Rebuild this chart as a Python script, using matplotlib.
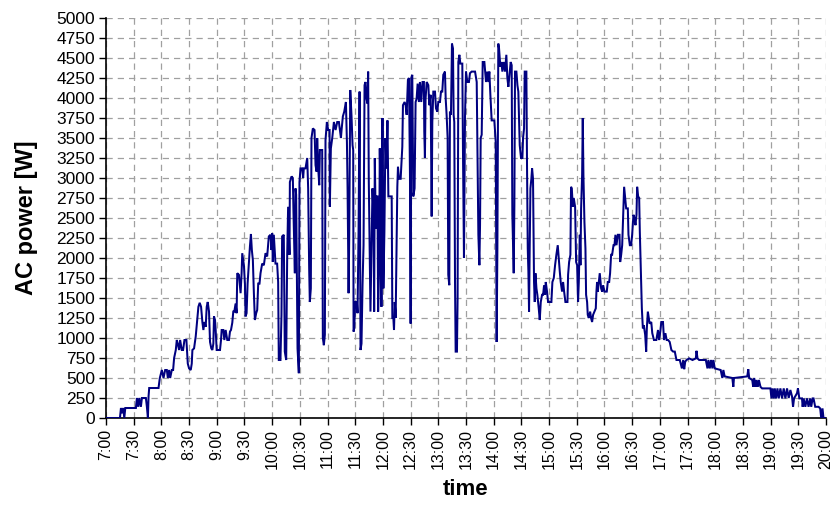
import numpy as np
import matplotlib
matplotlib.use("Agg")
import matplotlib.pyplot as plt

plt.rcParams['font.family'] = ['Liberation Sans', 'DejaVu Sans']

# minutes after 7:00 and AC power [W], segment by segment
tA = [0, 15.1, 16.2, 17.3, 18.7, 19.8, 20.9, 32.4, 33.5, 34.9, 36.0, 37.8, 38.9, 43.2, 44.3, 45.4, 46.1, 46.8,
      56.9, 58.3, 60.5, 62.3, 64.1, 65.9, 67.0, 68.4, 69.5, 71.3, 72.7, 73.8, 75.6, 76.7, 78.1, 79.2, 80.3, 82.1,
      83.5, 85.0, 87.1, 88.6, 90.0, 91.8, 92.9, 93.6, 95.4, 97.2, 98.6, 100.1, 101.5, 103.0, 104.4, 105.5, 106.6,
      108.0, 109.1, 110.2, 111.6, 112.7, 114.1, 115.2, 116.3, 117.0, 118.1, 118.8, 119.9, 123.5, 124.6, 125.3,
      127.1, 128.2, 129.6, 131.4, 133.2, 134.3, 135.4, 136.8, 137.9, 139.0, 140.4, 141.5, 142.2, 144.0, 145.8,
      146.9, 147.6, 149.4, 150.5, 151.2, 152.3, 153.4, 154.8, 155.9, 157.0, 158.0, 159.1, 160.2, 161.3, 162.7,
      163.8, 164.9, 166.3, 167.4, 169.2, 171.0, 172.8, 174.6, 176.4, 178.2, 179.3]
pA = [0, 0, 125, 60, 125, 0, 125, 125, 250, 140, 250, 140, 250, 250, 140, 0, 270, 375,
      375, 500, 600, 500, 600, 600, 500, 600, 500, 600, 600, 750, 850, 975, 910, 850, 975, 850,
      850, 975, 975, 680, 620, 600, 680, 850, 870, 1020, 1200, 1390, 1440, 1390, 1200, 1100, 1200,
      1140, 1390, 1450, 1330, 950, 870, 850, 930, 1270, 1225, 1100, 850, 850, 975, 1100,
      1100, 975, 1100, 975, 975, 1080, 1100, 1190, 1330, 1330, 1430, 1310, 1810, 1790, 1560,
      1810, 2060, 1910, 1680, 1270, 1310, 1680, 1930, 2140, 2300, 2100, 1975, 1560, 1225, 1310,
      1350, 1680, 1680, 1810, 1930, 1910, 2060, 2020, 2270, 2290, 2100]

tB = [180.0, 180.7, 181.8, 183.6, 185.4, 186.5, 187.2, 189.0, 190.1, 190.8, 192.6, 193.7, 195.2, 196.3, 197.3,
      198.8, 199.2, 201.0, 202.4, 203.1, 204.6, 205.3, 206.0, 207.5, 208.9, 209.6, 210.7, 212.5, 213.6, 214.3,
      216.1, 218.0, 219.0, 220.1, 220.8, 221.9, 222.6, 224.1, 225.9, 227.0, 228.1, 228.8, 229.9, 231.0, 231.7,
      234.2, 234.9, 236.0, 237.1, 237.8, 239.3, 240.7, 242.2, 242.5, 243.6, 245.1, 246.9, 248.7, 250.5, 252.3,
      253.4, 254.5, 255.2, 256.6, 258.1]
pB = [2310, 1950, 2290, 1930, 1930, 1700, 725, 725, 1290, 2270, 2290, 830, 725, 2040, 2640,
      2040, 2950, 3020, 3000, 2580, 1810, 2870, 2790, 870, 560, 2950, 3120, 3120, 3000, 3120,
      3120, 3250, 2870, 1870, 1450, 1620, 3500, 3620, 3600, 3160, 3080, 3500, 3120, 2910, 3350,
      3350, 1000, 910, 1040, 3475, 3700, 3600, 3600, 2640, 3370, 3500, 3700, 3600, 3700, 3700,
      3600, 3500, 3600, 3770, 3830]

tC = [259.9, 261.0, 261.7, 262.8, 263.5, 264.6, 266.0, 267.1, 267.8, 268.2, 268.9, 270.0, 271.8, 272.5, 273.6,
      274.7, 275.7, 276.8, 277.9, 279.0, 280.1, 281.1, 282.2, 283.3, 284.0, 284.7, 285.8, 286.5, 287.6, 288.7,
      289.8, 290.5, 291.2, 292.3, 293.0, 294.1, 294.8, 295.9, 296.6, 297.7, 298.4, 299.5, 300.5, 301.6, 302.7,
      303.8, 304.9, 305.9, 309.5, 310.2, 311.3, 312.0, 312.8, 313.8, 314.9, 315.6, 316.3, 317.4, 319.2, 321.0,
      321.7, 323.5, 324.6, 325.7, 327.1, 328.2, 329.3, 330.0, 330.7, 331.8, 332.9, 334.3, 335.4, 336.5, 337.6,
      339.0, 340.1, 341.5, 342.9, 344.4]
pC = [3950, 3450, 2870, 1560, 2250, 4100, 3770, 3410, 3350, 1080, 1120, 1450, 1450, 1310, 2330,
      4080, 850, 930, 1660, 2160, 4160, 4200, 3990, 3930, 4330, 2950, 1910, 1330, 2120, 2870,
      2540, 1330, 3250, 2370, 2770, 2770, 1330, 1870, 3370, 2370, 1390, 3750, 1620, 2330, 3500,
      3120, 3720, 2770, 2770, 1250, 1250, 1100, 1450, 1250, 2290, 2890, 3140, 2990, 2990, 3390,
      3910, 3950, 3910, 3790, 4230, 4250, 3040, 1180, 4250, 4290, 2770, 2870, 3950, 3990, 4180,
      3950, 4200, 3950, 4200, 4200]

tD = [344.8, 345.5, 346.2, 347.4, 349.2, 350.2, 351.7, 352.8, 353.5, 354.6, 356.4, 357.5, 358.9, 360.0, 361.8,
      362.9, 364.3, 365.4, 367.2, 368.0, 369.0, 370.1, 370.8, 371.9, 372.6, 373.7, 374.8, 375.9, 376.6, 377.3,
      378.1, 378.8, 380.2, 380.9, 381.7, 382.8, 383.9, 386.0, 386.7, 387.8, 388.9, 390.0, 391.4, 393.2, 394.3,
      396.1, 397.9, 399.8, 401.6, 403.4, 404.5, 405.2, 405.9, 407.0, 408.1, 409.9, 411.7, 413.1, 414.2, 415.3,
      416.4, 417.8, 420.7, 422.2, 423.2, 424.0, 425.0]
pD = [3580, 3250, 3990, 4200, 4160, 3910, 4040, 2520, 3700, 4080, 4080, 3870, 3830, 3950, 3950,
      4080, 4080, 4290, 4330, 3990, 3790, 3500, 1790, 1660, 3830, 3790, 4680, 4620, 3790, 3700,
      1700, 830, 830, 1500, 4450, 4540, 4430, 4430, 3370, 2000, 3750, 4330, 4200, 4200, 4310,
      4330, 4330, 4330, 4200, 2290, 1910, 2410, 3500, 3540, 4450, 4450, 4200, 4330, 4200, 4330,
      4040, 3720, 3720, 3450, 950, 2120, 4680]

tE = [425.8, 427.2, 428.3, 429.4, 430.8, 432.3, 433.7, 434.8, 435.9, 437.4, 438.4, 439.5, 440.2, 441.7, 442.4,
      443.1, 444.6, 445.7, 446.7, 448.2, 449.6, 451.1, 451.8, 452.9, 453.6, 455.4, 456.1, 456.9, 457.6, 458.3,
      459.0, 459.8, 460.8, 461.6, 462.6, 463.7, 464.5, 465.2, 466.3, 467.3, 468.8, 469.9, 471.0, 472.4, 473.5,
      474.6, 475.7, 476.4, 477.8, 478.9, 480.7, 482.5, 483.6, 485.1, 486.5, 487.9, 489.4, 490.5, 491.6, 492.6,
      494.1, 495.2, 496.3, 497.7, 498.8, 499.9, 500.6, 501.7, 503.1]
pE = [4620, 4390, 4450, 4330, 4450, 4330, 4540, 4250, 4140, 4330, 4450, 4410, 2540, 1810, 2660,
      4330, 4330, 4160, 4080, 3410, 3250, 3250, 3500, 3620, 4330, 4330, 3160, 2120, 1830, 1330,
      2120, 2870, 2990, 3120, 2990, 1700, 1450, 1810, 1620, 1540, 1370, 1225, 1450, 1540, 1540,
      1660, 1540, 1700, 1580, 1450, 1450, 1450, 1700, 1750, 1910, 2040, 2160, 1990, 1830, 1700,
      1580, 1700, 1580, 1450, 1450, 1450, 1790, 1950, 2040]

tF = [503.8, 504.6, 505.7, 506.7, 508.2, 509.3, 510.4, 511.4, 512.2, 513.3, 514.0, 514.7, 515.8, 516.5, 517.2,
      518.3, 519.4, 520.1, 521.2, 521.9, 523.0, 524.5, 525.5, 526.6, 527.7, 529.2, 530.6, 531.3, 532.0, 532.8,
      533.9, 534.9, 536.4, 537.5, 538.6, 540.0, 542.5, 543.6, 545.1, 546.1, 547.2, 548.3, 549.8, 550.8, 551.9,
      553.0, 554.5, 556.3, 557.0, 558.1, 559.2, 560.2, 561.3, 562.4, 563.5, 565.3, 566.0, 567.5, 568.9, 570.0,
      571.4, 572.5, 573.6, 574.7, 575.4, 576.5, 577.6, 578.3, 579.0, 579.8, 580.5, 581.6, 582.6, 584.1, 585.2,
      585.9, 587.0]
pF = [2890, 2870, 2640, 2750, 2640, 1950, 1910, 1450, 1700, 2290, 1910, 2620, 3040, 3750, 3040,
      2450, 2120, 1540, 1450, 1290, 1250, 1330, 1250, 1200, 1290, 1330, 1370, 1580, 1700, 1580,
      1700, 1810, 1620, 1580, 1660, 1580, 1580, 1700, 1700, 1810, 2040, 2040, 2160, 2160, 2290,
      2160, 2290, 2290, 1950, 2040, 2160, 2500, 2890, 2750, 2620, 2620, 2290, 2160, 2160, 2290,
      2540, 2500, 2410, 2540, 2890, 2770, 2750, 2330, 2040, 1700, 1370, 1120, 1160, 1040, 830,
      1120, 1330]

tG = [588.9, 590.7, 591.8, 593.6, 596.2, 598.0, 599.1, 600.5, 601.6, 603.4, 604.5, 606.0, 607.4, 608.9, 610.7,
      612.5, 614.4, 616.2, 618.0, 621.6]
pG = [1180, 1200, 1060, 975, 975, 1100, 975, 1080, 1200, 1200, 975, 1060, 975, 975, 950,
      850, 830, 830, 725, 725]

tH = [623.9, 625.3, 626.4, 627.5, 628.9, 631.8, 635.4, 639.0, 639.7, 640.8, 642.6, 649.8, 651.6, 652.6, 654.1,
      655.5, 656.9, 658.0, 659.5, 665.9, 667.7, 668.8, 670.2, 678.5, 679.6, 680.3, 694.7, 695.8, 696.8, 700.1,
      701.1, 702.2, 703.7, 704.7, 706.2, 707.3, 709.0, 710.8, 719.8, 720.9, 722.0, 723.4, 724.5, 725.9, 727.4,
      728.8, 730.6, 732.4, 734.2, 736.0, 737.8, 739.6, 741.4, 743.2, 744.3, 745.4, 748.6, 749.6, 751.1, 754.0,
      754.7, 755.8, 757.6, 759.4, 761.1, 762.9, 764.0, 765.5, 766.5, 768.3, 771.9, 773.7, 774.8, 776.2, 777.3,
      780.0]
pH = [620, 725, 610, 705, 725, 745, 725, 745, 840, 745, 725, 725, 620, 725, 620,
      725, 620, 725, 620, 600, 500, 600, 520, 500, 390, 500, 520, 610, 500, 475,
      390, 500, 390, 475, 390, 475, 390, 370, 370, 245, 370, 245, 370, 245, 370,
      245, 370, 245, 370, 245, 370, 250, 350, 270, 140, 245, 310, 370, 245, 245,
      140, 245, 140, 245, 140, 245, 140, 245, 245, 140, 140, 120, 0, 120, 0,
      0]

tick_minutes = list(range(0, 781, 30))
tick_labels = ["7:00", "7:30", "8:00", "8:30", "9:00", "9:30", "10:00", "10:30", "11:00", "11:30",
               "12:00", "12:30", "13:00", "13:30", "14:00", "14:30", "15:00", "15:30", "16:00", "16:30",
               "17:00", "17:30", "18:00", "18:30", "19:00", "19:30", "20:00"]
y_ticks = list(range(0, 5001, 250))

t = np.concatenate([tA, tB, tC, tD, tE, tF, tG, tH])
p = np.concatenate([pA, pB, pC, pD, pE, pF, pG, pH])

fig = plt.figure(figsize=(8.36, 5.05), dpi=100)
ax = fig.add_axes([106 / 836, 87 / 505, 720 / 836, 400 / 505])

ax.plot(t, p, color='#000080', lw=1.45, solid_joinstyle='miter', zorder=3)

ax.set_xlim(0, 780)
ax.set_ylim(0, 5000)
ax.set_xticks(tick_minutes)
ax.set_xticklabels(tick_labels, rotation=90, fontsize=11.5)
ax.set_yticks(y_ticks)
ax.set_yticklabels([str(v) for v in y_ticks], fontsize=12.5)

ax.grid(True, color='#a0a0a0', linestyle=(0, (5, 4)), lw=0.9, zorder=0)
ax.set_axisbelow(True)

for s in ['top', 'right']:
    ax.spines[s].set_visible(False)
for s in ['left', 'bottom']:
    ax.spines[s].set_linewidth(1.2)
    ax.spines[s].set_color('black')
ax.tick_params(axis='both', direction='out', length=5, width=1, color='black', pad=3)

ax.set_ylabel("AC power [W]", fontsize=17, fontweight='bold', labelpad=13)
ax.set_xlabel("time", fontsize=16, fontweight='bold', labelpad=7)

fig.savefig("out.png", dpi=100)
